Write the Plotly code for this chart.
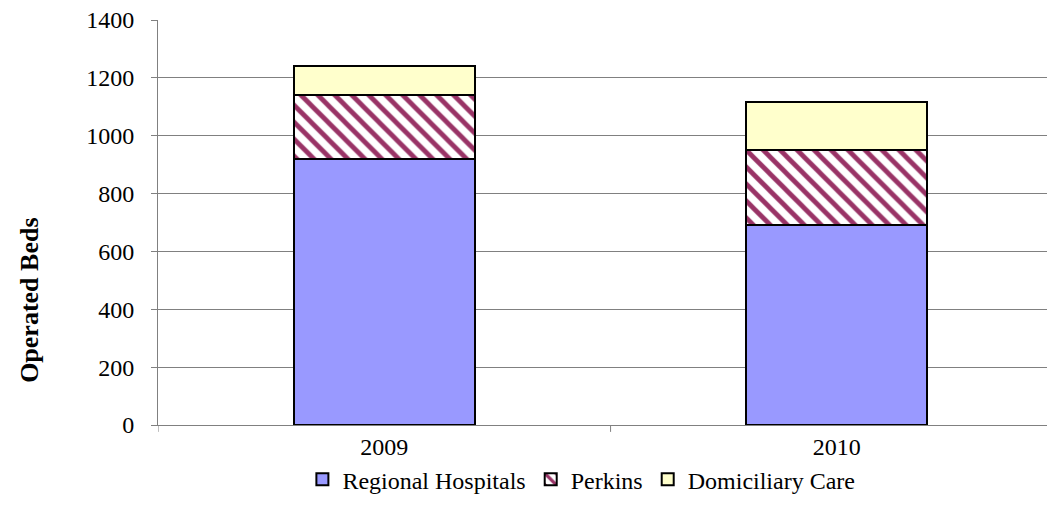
import plotly.graph_objects as go

years = ["2009", "2010"]
regional = [920, 690]
perkins = [222, 261]
domiciliary = [100, 166]
y_ticks = [0, 200, 400, 600, 800, 1000, 1200, 1400]

x_pos = list(range(len(years)))
line = dict(color="black", width=2)

fig = go.Figure()
fig.add_trace(go.Bar(x=x_pos, y=regional, name="Regional Hospitals",
                     marker=dict(color="#9999FF", line=line), width=0.4))
fig.add_trace(go.Bar(x=x_pos, y=perkins, name="Perkins",
                     marker=dict(color="white", line=line,
                                 pattern=dict(shape="\\", fgcolor="#993366", bgcolor="white",
                                              fgopacity=1, size=12, solidity=0.4,
                                              fillmode="replace")),
                     width=0.4))
fig.add_trace(go.Bar(x=x_pos, y=domiciliary, name="Domiciliary Care",
                     marker=dict(color="#FFFFCC", line=line), width=0.4))

font = dict(family="Liberation Serif", size=24, color="black")

fig.update_layout(
    barmode="stack",
    width=1047, height=515,
    margin=dict(l=150, r=0, t=12, b=98, autoexpand=False),
    paper_bgcolor="white", plot_bgcolor="white",
    font=font,
    showlegend=True,
    legend=dict(orientation="h", x=0.472, xanchor="center", y=-0.135, yanchor="middle",
                font=font, traceorder="normal", itemwidth=30),
    xaxis=dict(range=[-0.5, 1.482], tickmode="array", tickvals=x_pos, ticktext=years,
               showgrid=False, showline=True, linecolor="#808080", linewidth=1,
               ticks="", zeroline=False, tickfont=font, automargin=False),
    yaxis=dict(range=[0, 1400], tickmode="array", tickvals=y_ticks,
               showgrid=True, gridcolor="#808080", gridwidth=1,
               showline=True, linecolor="#808080", linewidth=1,
               ticks="outside", ticklen=6, tickcolor="#808080", zeroline=False,
               tickfont=font, ticklabelstandoff=12, ticklabeloverflow="allow",
               automargin=False),
    bargap=0.6,
)

fig.add_annotation(text="<b>Operated Beds</b>", xref="paper", yref="paper",
                   x=-0.1427, y=0.309, xanchor="center", yanchor="middle",
                   textangle=-90, showarrow=False,
                   font=dict(family="Liberation Serif", size=26, color="black"))

# category separator ticks on x axis
for xv in (-0.5, 0.5):
    fig.add_shape(type="line", xref="x", yref="paper", x0=xv, x1=xv, y0=0, y1=-0.017,
                  line=dict(color="#808080", width=1))

fig.write_html("out.html")
